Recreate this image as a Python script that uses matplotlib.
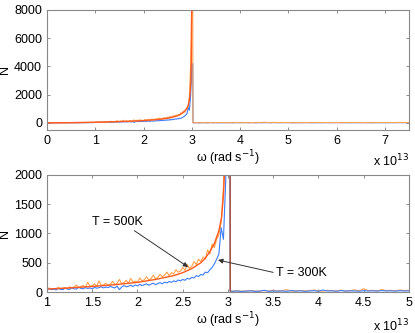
import numpy as np
import matplotlib
matplotlib.use('Agg')
import matplotlib.pyplot as plt

plt.rcParams['font.family'] = ['Liberation Sans', 'DejaVu Sans']
plt.rcParams['font.size'] = 9

# omega in units of 1e13 rad/s
w_low = [0.0, 0.1, 0.2, 0.3, 0.4, 0.5, 0.6, 0.7, 0.8, 0.9]
n500_low = [5, 12, 8, 18, 15, 25, 20, 32, 28, 38]
n300_low = [3, 8, 6, 12, 10, 15, 14, 20, 18, 25]

w_mid = [1.000, 1.025, 1.050, 1.075, 1.100, 1.125, 1.150, 1.175, 1.200, 1.225,
         1.250, 1.275, 1.300, 1.325, 1.350, 1.375, 1.400, 1.425, 1.450, 1.475,
         1.500, 1.525, 1.550, 1.575, 1.600, 1.625, 1.650, 1.675, 1.700, 1.725,
         1.750, 1.775, 1.800, 1.825, 1.850, 1.875, 1.900, 1.925, 1.950, 1.975,
         2.000, 2.025, 2.050, 2.075, 2.100, 2.125, 2.150, 2.175, 2.200, 2.225,
         2.250, 2.275, 2.300, 2.325, 2.350, 2.375, 2.400, 2.425, 2.450, 2.475,
         2.500, 2.525, 2.550, 2.575, 2.600, 2.625, 2.650, 2.675, 2.700, 2.725,
         2.750, 2.775, 2.800, 2.825, 2.850, 2.875, 2.900, 2.925, 2.950, 2.975]
n500_mid = [40, 70, 45, 60, 55, 80, 50, 65, 75, 55,
            90, 70, 85, 120, 75, 95, 110, 80, 170, 95,
            110, 140, 100, 190, 115, 120, 150, 110, 135, 180,
            125, 150, 215, 140, 160, 200, 150, 230, 170, 185,
            165, 240, 190, 210, 260, 200, 230, 290, 225, 250,
            300, 260, 290, 340, 280, 330, 310, 380, 340, 360,
            420, 370, 470, 400, 440, 520, 470, 560, 520, 600,
            560, 720, 650, 820, 760, 900, 980, 1200, 1800, 4000]
n300_mid = [30, 55, 40, 50, 35, 60, 45, 40, 65, 50,
            45, 70, 55, 50, 80, 60, 55, 75, 60, 70,
            55, 80, 65, 75, 90, 70, 85, 75, 95, 80,
            70, 100, 40, 85, 110, 90, 100, 115, 95, 120,
            105, 130, 110, 125, 140, 115, 135, 150, 125, 145,
            160, 140, 170, 155, 180, 165, 190, 175, 205, 190,
            215, 200, 235, 220, 250, 240, 280, 265, 300, 290,
            340, 330, 380, 420, 480, 560, 650, 1100, 900, 1900]

w_peak = [2.99, 3.0, 3.02, 3.025]
n500_peak = [6000, 9000, 9000, 18]
n300_peak = [3000, 4200, 4200, 15]

w_tail = [3.05, 3.10, 3.15, 3.20, 3.25, 3.30, 3.35, 3.40, 3.45, 3.50,
          3.55, 3.60, 3.65, 3.70, 3.75, 3.80, 3.85, 3.90, 3.95, 4.00,
          4.05, 4.10, 4.15, 4.20, 4.25, 4.30, 4.35, 4.40, 4.45, 4.50,
          4.55, 4.60, 4.65, 4.70, 4.75, 4.80, 4.85, 4.90, 4.95, 5.00,
          5.1, 5.2, 5.3, 5.4, 5.5, 5.6, 5.7, 5.8, 5.9, 6.0,
          6.1, 6.2, 6.3, 6.4, 6.5, 6.6, 6.7, 6.8, 6.9, 7.0,
          7.1, 7.2, 7.3, 7.4, 7.5]
n500_tail = [15, 22, 12, 18, 26, 14, 18, 24, 16, 30,
             18, 24, 40, 15, 20, 26, 18, 22, 34, 18,
             16, 28, 22, 18, 32, 16, 22, 38, 18, 55,
             22, 30, 18, 42, 24, 28, 20, 34, 26, 30,
             18, 26, 22, 30, 18, 34, 24, 28, 22, 32,
             20, 30, 24, 34, 22, 28, 18, 30, 26, 24,
             30, 22, 34, 26, 30]
n300_tail = [12, 18, 10, 15, 20, 12, 14, 30, 12, 18,
             15, 18, 12, 24, 16, 20, 12, 18, 22, 14,
             34, 18, 20, 14, 24, 16, 20, 18, 14, 22,
             18, 20, 16, 24, 18, 20, 16, 22, 18, 20,
             16, 20, 18, 22, 16, 20, 18, 20, 16, 22,
             18, 20, 16, 20, 18, 22, 16, 20, 18, 20,
             16, 20, 18, 22, 20]

# smooth fit for T = 500K
w_fit = [0.0, 0.5, 1.0, 1.25, 1.5, 1.75, 2.0, 2.2, 2.4, 2.5, 2.6, 2.7, 2.75,
         2.8, 2.85, 2.9, 2.93, 2.95, 2.97, 2.98, 2.99, 3.0]
n_fit = [0, 20, 50, 70, 95, 125, 165, 215, 280, 330, 400, 500, 580,
         690, 830, 1050, 1280, 1650, 2300, 3000, 4500, 9000]

c_fit = '#ff5a1f'
c_500 = '#ffa04a'
c_300 = '#3d7dff'
c_drop = '#b04a30'

w_all = w_low + w_mid + w_peak + w_tail
n500_all = n500_low + n500_mid + n500_peak + n500_tail
n300_all = n300_low + n300_mid + n300_peak + n300_tail

fig = plt.figure(figsize=(4.15, 3.33), dpi=100)
ax1 = fig.add_axes([0.1133, 0.6096, 0.872, 0.3604])
ax2 = fig.add_axes([0.1133, 0.1231, 0.872, 0.3514])

# top panel: orange drawn over blue
ax1.plot(w_all, n300_all, color=c_300, lw=0.8)
ax1.plot(w_all, n500_all, color=c_500, lw=0.8)
# bottom panel: blue drawn over orange
ax2.plot(w_all, n500_all, color=c_500, lw=0.8)
ax2.plot(w_all, n300_all, color=c_300, lw=0.8)

for ax in (ax1, ax2):
    ax.plot(w_fit, n_fit, color=c_fit, lw=1.0)
    ax.tick_params(direction='in', length=2.5, width=0.6, top=True, right=True,
                   colors='#777777', labelcolor='black', labelsize=9)
    for s in ax.spines.values():
        s.set_color('#888888')
        s.set_linewidth(0.8)
    ax.set_xlabel('ω (rad s$^{-1}$)', fontsize=9, labelpad=1)
    ax.set_ylabel('N', fontsize=9, labelpad=2)

# the drop-off edge shows darker where both curves overlap
ax2.plot(w_peak[2:], n500_peak[2:], color=c_drop, lw=0.9)

ax1.set_xlim(0, 7.5)
ax1.set_ylim(-500, 8000)
ax1.set_xticks([0, 1, 2, 3, 4, 5, 6, 7])
ax1.set_yticks([0, 2000, 4000, 6000, 8000])
ax1.text(1.0, -0.26, 'x 10$^{13}$', transform=ax1.transAxes, ha='right', va='center', fontsize=9)

ax2.set_xlim(1, 5)
ax2.set_ylim(0, 2000)
ax2.set_xticks([1, 1.5, 2, 2.5, 3, 3.5, 4, 4.5, 5])
ax2.set_xticklabels(['1', '1.5', '2', '2.5', '3', '3.5', '4', '4.5', '5'])
ax2.set_yticks([0, 500, 1000, 1500, 2000])
ax2.text(1.0, -0.29, 'x 10$^{13}$', transform=ax2.transAxes, ha='right', va='center', fontsize=9)

arrow = dict(arrowstyle='-|>', color='#333333', lw=0.7, mutation_scale=7, shrinkA=0, shrinkB=0)
ax2.annotate('T = 500K', xy=(2.56, 427), xytext=(1.50, 1197), fontsize=9,
             ha='left', va='center', arrowprops=dict(arrow, relpos=(0.75, 0.0)))
ax2.annotate('T = 300K', xy=(2.89, 547), xytext=(3.53, 325), fontsize=9,
             ha='left', va='center', arrowprops=dict(arrow, relpos=(0.0, 0.5)))

fig.savefig('out.png', dpi=100)
